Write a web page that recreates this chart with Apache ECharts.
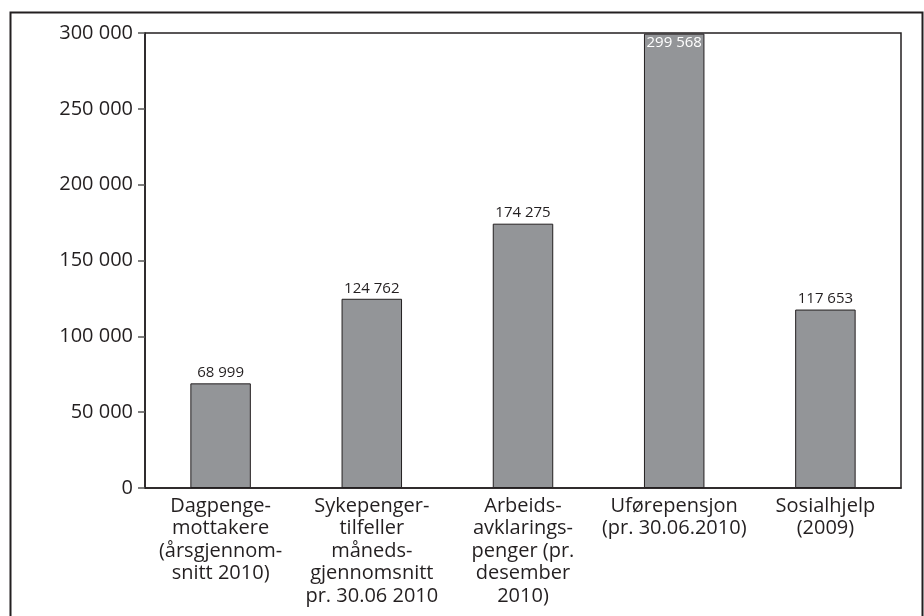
<!DOCTYPE html>
<html>
<head>
<meta charset="utf-8">
<script src="https://cdn.jsdelivr.net/npm/echarts@6/dist/echarts.min.js"></script>
<style>
html,body{margin:0;padding:0;background:#fff;}
#chart{width:924px;height:616px;}
</style>
</head>
<body>
<div id="chart"></div>
<script>
const categories = [
  "Dagpenge-\nmottakere\n(årsgjennom-\nsnitt 2010)",
  "Sykepenger-\ntilfeller\nmåneds-\ngjennomsnitt\npr. 30.06 2010",
  "Arbeids-\navklarings-\npenger (pr.\ndesember\n2010)",
  "Uførepensjon\n(pr. 30.06.2010)",
  "Sosialhjelp\n(2009)"
];
const values = [68999, 124762, 174275, 299568, 117653];
const yTicks = [0, 50000, 100000, 150000, 200000, 250000, 300000];

const ink = '#231f20';
const font = '"Open Sans", "DejaVu Sans", sans-serif';
function fmt(v){ return String(v).replace(/\B(?=(\d{3})+(?!\d))/g, ' '); }

const chart = echarts.init(document.getElementById('chart'), null, {renderer:'canvas'});
chart.setOption({
  animation:false,
  backgroundColor:'#fff',
  textStyle:{fontFamily:font},
  graphic:[{
    type:'rect', left:8, top:10,
    shape:{x:0,y:0,width:912,height:640},
    style:{fill:'none', stroke:ink, lineWidth:2},
    silent:true
  }],
  grid:{left:145, right:23, top:33, bottom:128, show:true, borderColor:ink, borderWidth:1.5, backgroundColor:'transparent'},
  xAxis:{
    type:'category', data:categories,
    axisLine:{show:true, lineStyle:{color:ink, width:1.5}},
    axisTick:{show:false},
    axisLabel:{color:ink, fontSize:20, lineHeight:22.5, margin:7, interval:0, fontFamily:font}
  },
  yAxis:{
    type:'value', min:yTicks[0], max:yTicks[yTicks.length-1], interval:50000,
    axisLine:{show:true, lineStyle:{color:ink, width:1.5}},
    axisTick:{show:true, length:7, lineStyle:{color:'#555', width:1.5}},
    splitLine:{show:false},
    axisLabel:{color:ink, fontSize:20, margin:12, formatter:fmt, fontFamily:font}
  },
  series:[{
    type:'bar', data:values.map((v,i)=>({
      value:v,
      label: v===Math.max(...values) ? {position:'insideTop', color:'#fff', distance:2} : {}
    })),
    barWidth:'40%',
    itemStyle:{color:'#939598', borderColor:ink, borderWidth:1},
    label:{show:true, position:'top', color:ink, fontSize:15, distance:3, fontFamily:font,
      formatter:p=>fmt(p.value)}
  }]
});
</script>
</body>
</html>
